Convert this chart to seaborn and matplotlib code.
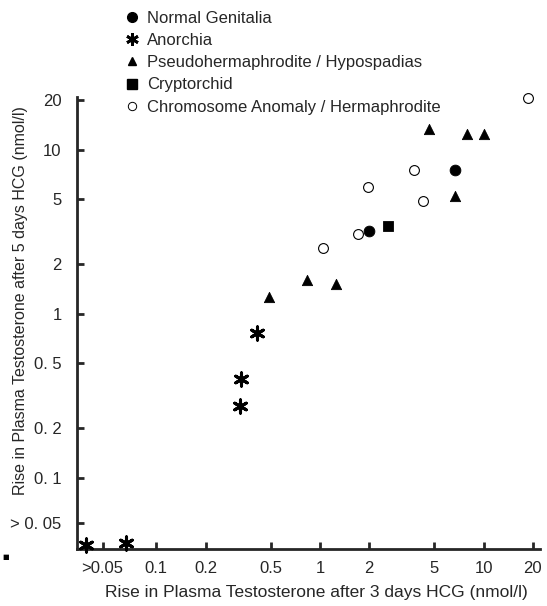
import matplotlib
matplotlib.use("Agg")
import matplotlib.pyplot as plt
from matplotlib.lines import Line2D
import pandas as pd
import seaborn as sns

sns.set_style("ticks")
plt.rcParams["font.family"] = ["Liberation Sans", "DejaVu Sans"]

# rise in testosterone after 3 days HCG (x) and after 5 days HCG (y), nmol/l
normal_x = [6.7, 2.0]
normal_y = [7.5, 3.2]
anorchia_x = [0.41, 0.33, 0.325, 0.037, 0.065]
anorchia_y = [0.76, 0.40, 0.274, 0.039, 0.040]
pseudo_x = [4.65, 7.9, 10.1, 6.7, 0.83, 1.26, 0.49]
pseudo_y = [13.3, 12.5, 12.4, 5.2, 1.6, 1.51, 1.26]
crypt_x = [2.6]
crypt_y = [3.43]
chrom_x = [18.7, 3.77, 1.97, 4.24, 1.71, 1.04]
chrom_y = [20.5, 7.5, 5.93, 4.87, 3.05, 2.52]

groups = ["Normal Genitalia", "Anorchia", "Pseudohermaphrodite / Hypospadias",
          "Cryptorchid", "Chromosome Anomaly / Hermaphrodite"]

x_ticks = [0.047, 0.1, 0.2, 0.5, 1, 2, 5, 10, 20]
x_labels = [">0.05", "0.1", "0.2", "0.5", "1", "2", "5", "10", "20"]
y_ticks = [0.053, 0.1, 0.2, 0.5, 1, 2, 5, 10, 20]
y_labels = ["> 0. 05", "0. 1", "0. 2", "0. 5", "1", "2", "5", "10", "20"]

df = pd.concat([
    pd.DataFrame({"x": normal_x, "y": normal_y, "group": groups[0]}),
    pd.DataFrame({"x": anorchia_x, "y": anorchia_y, "group": groups[1]}),
    pd.DataFrame({"x": pseudo_x, "y": pseudo_y, "group": groups[2]}),
    pd.DataFrame({"x": crypt_x, "y": crypt_y, "group": groups[3]}),
    pd.DataFrame({"x": chrom_x, "y": chrom_y, "group": groups[4]}),
])

fig = plt.figure(figsize=(5.47, 6.06), dpi=100)
ax = fig.add_axes([0.1408, 0.0941, 0.8464, 0.7459])

styles = {
    groups[0]: dict(marker="o", s=60, color="black", edgecolor="black"),
    groups[1]: dict(marker=(6, 2, 0), s=90, color="black", linewidth=2.2),
    groups[2]: dict(marker="^", s=55, color="black", edgecolor="black"),
    groups[3]: dict(marker="s", s=55, color="black", edgecolor="black"),
    groups[4]: dict(marker="o", s=50, facecolor="white", edgecolor="black", linewidth=0.8),
}
for g in groups:
    sns.scatterplot(data=df[df["group"] == g], x="x", y="y", ax=ax,
                    legend=False, clip_on=False, zorder=3, **styles[g])

ax.set_xscale("log")
ax.set_yscale("log")
ax.set_xlim(0.0328, 22.1)
ax.set_ylim(0.0368, 20.9)
ax.set_xticks(x_ticks)
ax.set_xticklabels(x_labels)
ax.set_yticks(y_ticks)
ax.set_yticklabels(y_labels)
ax.minorticks_off()
ax.tick_params(direction="in", length=5, width=2, labelsize=12, pad=9)
ax.tick_params(axis="y", pad=11)
sns.despine(ax=ax)
for side in ["left", "bottom"]:
    ax.spines[side].set_linewidth(2)

ax.set_xlabel("Rise in Plasma Testosterone after 3 days HCG (nmol/l)", fontsize=12.5)
ax.xaxis.set_label_coords(0.518, -0.08)
ax.set_ylabel("Rise in Plasma Testosterone after 5 days HCG (nmol/l)", fontsize=11.5)
ax.yaxis.set_label_coords(-0.106, 0.55)

handles = [
    Line2D([], [], ls="", marker="o", ms=7, color="black"),
    Line2D([], [], ls="", marker=(6, 2, 0), ms=9, color="black", mew=2),
    Line2D([], [], ls="", marker="^", ms=6, color="black"),
    Line2D([], [], ls="", marker="s", ms=7, color="black"),
    Line2D([], [], ls="", marker="o", ms=6, mfc="white", mec="black", mew=0.7),
]
fig.legend(handles, groups, loc="upper left", bbox_to_anchor=(0.202, 1.004),
           frameon=False, fontsize=12, handlelength=1.0, handletextpad=0.4,
           labelspacing=0.43, borderpad=0.3)

fig.text(0.004, 0.078, "■", fontsize=5, color="black", family="DejaVu Sans")

fig.savefig("out.png", dpi=100)
